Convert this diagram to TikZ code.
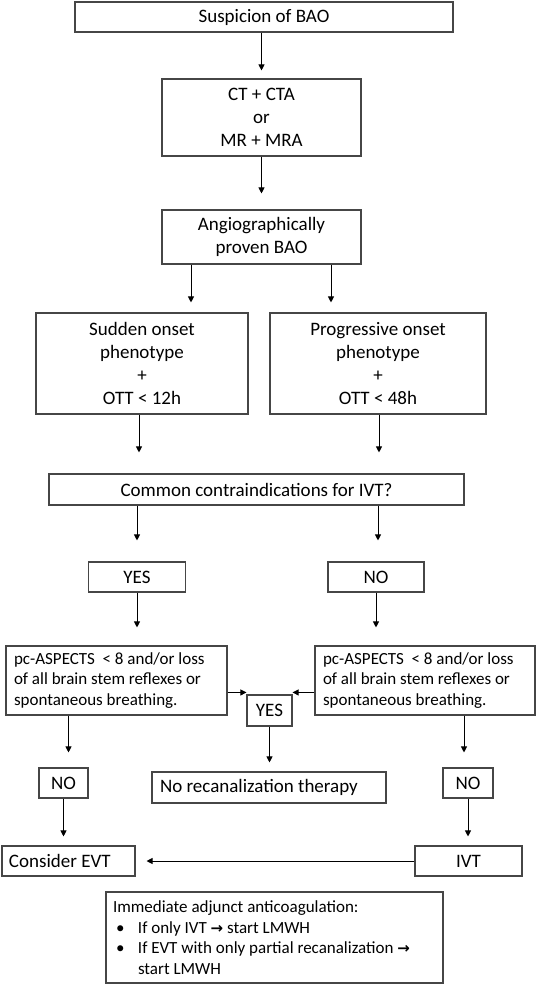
\documentclass[tikz,border=0pt]{standalone}
\usepackage{fontspec}
\setmainfont{Carlito}
\newfontfamily\symfont{DejaVu Sans}
\usetikzlibrary{arrows.meta,calc}
\definecolor{boxc}{RGB}{70,70,70}
\newcommand{\bigfs}{\fontsize{19}{23}\selectfont}
\newcommand{\smallfs}{\fontsize{17}{20.5}\selectfont}
\newcommand{\txtarrow}{{\symfont\bfseries\fontsize{15}{20.5}\selectfont →}}
\begin{document}
\begin{tikzpicture}[x=1pt,y=-1pt,
  box/.style={draw=boxc, line width=1.1pt, inner sep=0pt, align=center, font=\bigfs},
  lbox/.style={box, align=flush left, inner xsep=8pt, font=\smallfs},
  lbigbox/.style={lbox, font=\bigfs},
  arr/.style={draw=black, line width=0.9pt, -{Triangle[length=6pt,width=6pt]}}]
\useasboundingbox (0,0) rectangle (536,985);
\node[box, minimum width=378pt, minimum height=30pt] (susp) at (264,17) {Suspicion of BAO};
\node[box, minimum width=199pt, minimum height=77pt] (ct) at (261.5,117.5) {CT + CTA\\or\\MR + MRA};
\node[box, minimum width=199pt, minimum height=54pt] (angio) at (261.5,237) {Angiographically\\proven BAO};
\node[box, minimum width=212pt, minimum height=101pt] (sud) at (142,363.5) {Sudden onset\\phenotype\\+\\OTT < 12h};
\node[box, minimum width=216pt, minimum height=101pt] (prog) at (378,363.5) {Progressive onset\\phenotype\\+\\OTT < 48h};
\node[box, minimum width=415pt, minimum height=31pt] (com) at (256.5,489.5) {Common contraindications for IVT?};
\node[box, minimum width=97pt, minimum height=30pt] (yes1) at (137,577) {YES};
\node[box, minimum width=96pt, minimum height=30pt] (no1) at (376,577) {NO};
\node[lbox, text width=205pt, minimum height=69pt] (pcl) at (116.5,680.5) {pc-ASPECTS\ \ < 8 and/or loss\\of all brain stem reflexes or\\spontaneous breathing.};
\node[lbox, text width=204pt, minimum height=69pt] (pcr) at (425,680.5) {pc-ASPECTS\ \ < 8 and/or loss\\of all brain stem reflexes or\\spontaneous breathing.};
\node[box, minimum width=45pt, minimum height=31pt] (yes2) at (269.5,710.5) {YES};
\node[lbigbox, text width=218pt, minimum height=31pt] (norec) at (269,787.5) {No recanalization therapy};
\node[box, minimum width=49pt, minimum height=30pt] (nol) at (63.5,783) {NO};
\node[box, minimum width=50pt, minimum height=30pt] (nor) at (468,783) {NO};
\node[lbigbox, inner xsep=7pt, text width=119pt, minimum height=30pt] (cevt) at (68.5,861) {Consider EVT};
\node[box, minimum width=107pt, minimum height=30pt] (ivt) at (468.5,861) {IVT};
\node[lbox, inner xsep=7pt, text width=323pt, minimum height=91pt] (adj) at (274.5,937.5)
  {Immediate adjunct anticoagulation:\\
   \makebox[25pt][l]{\hspace{3pt}•}If only IVT \txtarrow{} start LMWH\\
   \makebox[25pt][l]{\hspace{3pt}•}If EVT with only partial recanalization \txtarrow\\
   \hspace*{25pt}start LMWH};
% connectors
\draw[arr, shorten >=8pt] (susp.south -| ct.north) -- (ct.north);
\draw[arr, shorten >=16pt] (ct.south) -- (angio.north);
\coordinate (a1) at ([xshift=-70.5pt]angio.south);
\coordinate (a2) at ([xshift=69.5pt]angio.south);
\draw[arr, shorten >=10pt] (a1) -- (a1 |- sud.north);
\draw[arr, shorten >=10pt] (a2) -- (a2 |- prog.north);
\coordinate (s1) at ([xshift=-3pt]sud.south);
\coordinate (p1) at ([xshift=1pt]prog.south);
\draw[arr, shorten >=21pt] (s1) -- (s1 |- com.north);
\draw[arr, shorten >=21pt] (p1) -- (p1 |- com.north);
\draw[arr, shorten >=21pt] (com.south -| yes1.north) -- (yes1.north);
\coordinate (n1) at ([xshift=2pt]no1.north);
\draw[arr, shorten >=21pt] (n1 |- com.south) -- (n1);
\draw[arr, shorten >=18pt] (yes1.south) -- (yes1.south |- pcl.north);
\draw[arr, shorten >=18pt] (no1.south) -- (no1.south |- pcr.north);
\coordinate (nl) at ([xshift=5pt]nol.north);
\coordinate (nr) at ([xshift=-4pt]nor.north);
\draw[arr, shorten >=15pt] (nl |- pcl.south) -- (nl);
\draw[arr, shorten >=15pt] (nr |- pcr.south) -- (nr);
\draw[arr, shorten >=9pt] (nol.south) -- (nol.south |- cevt.north);
\draw[arr, shorten >=9pt] (nor.south) -- (nor.south |- ivt.north);
\draw[arr, shorten >=9pt] (yes2.south) -- (yes2.south |- norec.north);
\coordinate (yl) at ([yshift=2pt]yes2.north west);
\coordinate (yr) at ([yshift=2pt]yes2.north east);
\draw[arr] (pcl.east |- yl) -- (yl);
\draw[arr] (pcr.west |- yr) -- (yr);
\draw[arr, shorten >=11pt] (ivt.west) -- (cevt.east);
\end{tikzpicture}
\end{document}
